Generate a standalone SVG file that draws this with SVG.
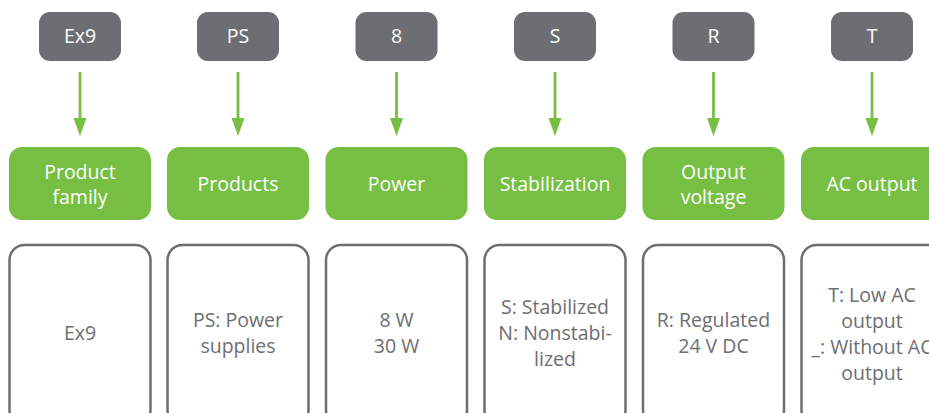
<svg xmlns="http://www.w3.org/2000/svg" width="929" height="413" viewBox="0 0 929 413">
<style>
.code{fill:#6d6e71}
.cat{fill:#76bf43}
.desc{fill:#fff;stroke:#6d6e71;stroke-width:2.5}
.t{font-family:"Open Sans","Liberation Sans",sans-serif;font-size:19.5px;text-anchor:middle}
.w{fill:#fff}
.g{fill:#6d6e71}
.arrow{fill:#76bf43}
</style>
<g id="connectors" class="arrow">
<rect x="78.6" y="72" width="2.8" height="48"/><path d="M73.5,118 L86.5,118 L80,136 Z"/>
<rect x="236.6" y="72" width="2.8" height="48"/><path d="M231.5,118 L244.5,118 L238,136 Z"/>
<rect x="395.1" y="72" width="2.8" height="48"/><path d="M390,118 L403,118 L396.5,136 Z"/>
<rect x="553.6" y="72" width="2.8" height="48"/><path d="M548.5,118 L561.5,118 L555,136 Z"/>
<rect x="712.1" y="72" width="2.8" height="48"/><path d="M707,118 L720,118 L713.5,136 Z"/>
<rect x="870.6" y="72" width="2.8" height="48"/><path d="M865.5,118 L878.5,118 L872,136 Z"/>
</g>
<g id="code-ex9"><rect class="code" x="39" y="12" width="82" height="49" rx="11"/><text class="t w" x="80" y="43">Ex9</text></g>
<g id="code-ps"><rect class="code" x="197" y="12" width="82" height="49" rx="11"/><text class="t w" x="238" y="43">PS</text></g>
<g id="code-8"><rect class="code" x="355.5" y="12" width="82" height="49" rx="11"/><text class="t w" x="396.5" y="43">8</text></g>
<g id="code-s"><rect class="code" x="514" y="12" width="82" height="49" rx="11"/><text class="t w" x="555" y="43">S</text></g>
<g id="code-r"><rect class="code" x="672.5" y="12" width="82" height="49" rx="11"/><text class="t w" x="713.5" y="43">R</text></g>
<g id="code-t"><rect class="code" x="831" y="12" width="82" height="49" rx="11"/><text class="t w" x="872" y="43">T</text></g>

<g id="cat-family"><rect class="cat" x="9" y="147" width="142" height="73" rx="13"/><text class="t w" x="80" y="179">Product</text><text class="t w" x="80" y="204">family</text></g>
<g id="cat-products"><rect class="cat" x="167" y="147" width="142" height="73" rx="13"/><text class="t w" x="238" y="191">Products</text></g>
<g id="cat-power"><rect class="cat" x="325.5" y="147" width="142" height="73" rx="13"/><text class="t w" x="396.5" y="191">Power</text></g>
<g id="cat-stab"><rect class="cat" x="484" y="147" width="142" height="73" rx="13"/><text class="t w" x="555" y="191">Stabilization</text></g>
<g id="cat-voltage"><rect class="cat" x="642.5" y="147" width="142" height="73" rx="13"/><text class="t w" x="713.5" y="179">Output</text><text class="t w" x="713.5" y="204">voltage</text></g>
<g id="cat-ac"><rect class="cat" x="801" y="147" width="142" height="73" rx="13"/><text class="t w" x="872" y="191">AC output</text></g>

<g id="desc-family"><rect class="desc" x="9.5" y="245" width="141" height="180" rx="15"/><text class="t g" x="80" y="340">Ex9</text></g>
<g id="desc-products"><rect class="desc" x="167.5" y="245" width="141" height="180" rx="15"/><text class="t g" x="238" y="327">PS: Power</text><text class="t g" x="238" y="353">supplies</text></g>
<g id="desc-power"><rect class="desc" x="326" y="245" width="141" height="180" rx="15"/><text class="t g" x="396.5" y="327">8 W</text><text class="t g" x="396.5" y="353">30 W</text></g>
<g id="desc-stab"><rect class="desc" x="484.5" y="245" width="141" height="180" rx="15"/><text class="t g" x="555" y="314">S: Stabilized</text><text class="t g" x="555" y="340">N: Nonstabi-</text><text class="t g" x="555" y="366">lized</text></g>
<g id="desc-voltage"><rect class="desc" x="643" y="245" width="141" height="180" rx="15"/><text class="t g" x="713.5" y="327">R: Regulated</text><text class="t g" x="713.5" y="353">24 V DC</text></g>
<g id="desc-ac"><rect class="desc" x="801.5" y="245" width="141" height="180" rx="15"/><text class="t g" x="872" y="302">T: Low AC</text><text class="t g" x="872" y="328">output</text><text class="t g" x="872" y="354">_: Without AC</text><text class="t g" x="872" y="380">output</text></g>
</svg>
